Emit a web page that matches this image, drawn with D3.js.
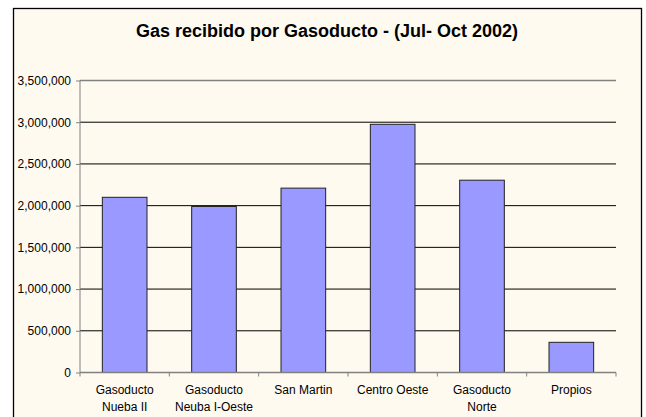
<!DOCTYPE html>
<html>
<head>
<meta charset="utf-8">
<script src="https://cdn.jsdelivr.net/npm/d3@7"></script>
<style>
  body { margin: 0; background: #fff; }
  text { font-family: "Liberation Sans", Arial, sans-serif; }
</style>
</head>
<body>
<svg id="chart" width="646" height="417"></svg>
<script>
let categorias = [["Gasoducto", "Nueba II"], ["Gasoducto", "Neuba I-Oeste"], ["San Martin"], ["Centro Oeste"], ["Gasoducto", "Norte"], ["Propios"]]
let valores = [2100000, 1990000, 2210000, 2975000, 2305000, 362000]
let ticksY = [0, 500000, 1000000, 1500000, 2000000, 2500000, 3000000, 3500000]

let svg = d3.select("#chart")

// marco del grafico
svg.append("rect")
  .attr("x", 13.5).attr("y", 8.5)
  .attr("width", 628).attr("height", 420)
  .attr("fill", "#fffaf0")
  .attr("stroke", "#000").attr("stroke-width", 1.3)

svg.append("text")
  .attr("x", 327).attr("y", 36.5)
  .attr("text-anchor", "middle")
  .style("font-size", "18px").style("font-weight", "bold")
  .text("Gas recibido por Gasoducto - (Jul- Oct 2002)")

let izq = 80, der = 616, arriba = 80.5, abajo = 372.5

let xScale = d3.scaleBand().domain(d3.range(categorias.length)).range([izq, der])
let yScale = d3.scaleLinear().domain([0, 3500000]).range([abajo, arriba])

// lineas de division
svg.append("g")
  .selectAll("line")
  .data(ticksY.filter(d => d > 0))
  .enter().append("line")
  .attr("x1", izq).attr("x2", der)
  .attr("y1", d => yScale(d)).attr("y2", d => yScale(d))
  .attr("stroke", d => d == 3500000 ? "#808080" : "#000")
  .attr("stroke-width", d => d == 3500000 ? 1.5 : 1)

let bw = xScale.bandwidth() * 0.5
svg.append("g")
  .selectAll("rect")
  .data(valores)
  .enter().append("rect")
  .attr("x", (d, i) => xScale(i) + xScale.bandwidth() / 2 - bw / 2)
  .attr("y", d => yScale(d))
  .attr("width", bw)
  .attr("height", d => abajo - yScale(d))
  .attr("fill", "#9999ff")
  .attr("stroke", "#222").attr("stroke-width", 1)

let yAxis = d3.axisLeft(yScale).tickValues(ticksY).tickSize(4).tickPadding(5)
  .tickFormat(d3.format(","))
let yAxisGroup = svg.append("g")
  .attr("transform", `translate(${izq},0)`)
  .call(yAxis)
yAxisGroup.select(".domain").attr("stroke", "#808080").attr("d", `M0,${arriba}V${abajo}`)
yAxisGroup.selectAll(".tick line").attr("stroke", "#808080")
yAxisGroup.selectAll("text").style("font-size", "12px").attr("fill", "#000")

let xAxisGroup = svg.append("g")
  .attr("transform", `translate(0,${abajo})`)
xAxisGroup.append("line")
  .attr("x1", izq).attr("x2", der)
  .attr("stroke", "#808080").attr("stroke-width", 1.5)
xAxisGroup.selectAll("line.tk")
  .data(d3.range(categorias.length + 1))
  .enter().append("line")
  .attr("class", "tk")
  .attr("x1", i => izq + i * xScale.step()).attr("x2", i => izq + i * xScale.step())
  .attr("y1", 0).attr("y2", 4)
  .attr("stroke", "#808080")

xAxisGroup.selectAll("text")
  .data(categorias)
  .enter().append("text")
  .attr("text-anchor", "middle")
  .attr("x", (d, i) => xScale(i) + xScale.bandwidth() / 2)
  .attr("y", 21.5)
  .style("font-size", "12px")
  .each(function (d) {
    let t = d3.select(this)
    d.forEach((linea, k) => {
      t.append("tspan").attr("x", t.attr("x")).attr("dy", k == 0 ? 0 : 17).text(linea)
    })
  })
</script>
</body>
</html>
